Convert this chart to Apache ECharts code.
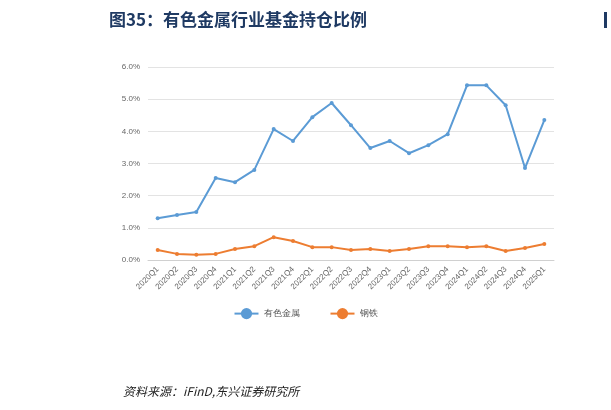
<!DOCTYPE html>
<html>
<head>
<meta charset="UTF-8">
<script src="https://cdn.jsdelivr.net/npm/echarts@6/dist/echarts.min.js"></script>
<style>
body{margin:0;background:#fff;}
#main{width:611px;height:410px;}
</style>
</head>
<body>
<div id="main"></div>
<script>
var quarters = ['2020Q1','2020Q2','2020Q3','2020Q4','2021Q1','2021Q2','2021Q3','2021Q4','2022Q1','2022Q2','2022Q3','2022Q4','2023Q1','2023Q2','2023Q3','2023Q4','2024Q1','2024Q2','2024Q3','2024Q4','2025Q1'];
var nonferrous = [1.30,1.40,1.49,2.55,2.42,2.80,4.07,3.70,4.44,4.88,4.19,3.48,3.70,3.32,3.57,3.91,5.43,5.43,4.81,2.86,4.35];
var steel = [0.31,0.19,0.16,0.19,0.34,0.43,0.71,0.59,0.40,0.40,0.31,0.34,0.28,0.34,0.43,0.43,0.40,0.43,0.28,0.37,0.50];

var chart = echarts.init(document.getElementById('main'));
chart.setOption({
    animation: false,
    title: [{
        text: '图35：有色金属行业基金持仓比例',
        left: 104, top: 6,
        textStyle: {color: '#1f3a63', fontSize: 17, fontWeight: 'bold', fontFamily: 'Noto Sans CJK SC'}
    }, {
        text: '资料来源：iFinD,东兴证券研究所',
        left: 118, top: 380,
        textStyle: {color: '#222', fontSize: 12, fontWeight: 'normal', fontStyle: 'italic', fontFamily: 'Noto Sans CJK SC'}
    }],
    graphic: [{type: 'rect', shape: {x: 604, y: 12, width: 3, height: 16}, style: {fill: '#1f3a63'}}],
    legend: {
        data: ['有色金属', '钢铁'],
        top: 303, left: 'center', itemGap: 30, itemWidth: 24,
        textStyle: {fontSize: 9, color: '#555'}
    },
    grid: {left: 148, right: 57, top: 67, bottom: 150},
    xAxis: {
        type: 'category', data: quarters, boundaryGap: true,
        axisLine: {lineStyle: {color: '#d0d0d0'}},
        axisTick: {show: false},
        axisLabel: {rotate: 45, fontSize: 8, color: '#666', interval: 0}
    },
    yAxis: {
        type: 'value', min: 0, max: 6, interval: 1,
        axisLabel: {fontSize: 8, color: '#666', formatter: function (v) { return v.toFixed(1) + '%'; }},
        splitLine: {lineStyle: {color: '#e3e3e3'}},
        axisLine: {show: false}
    },
    series: [{
        name: '有色金属', type: 'line', data: nonferrous,
        symbol: 'circle', symbolSize: 4,
        itemStyle: {color: '#5b9bd5'}, lineStyle: {width: 2}
    }, {
        name: '钢铁', type: 'line', data: steel,
        symbol: 'circle', symbolSize: 4,
        itemStyle: {color: '#ed7d31'}, lineStyle: {width: 2}
    }]
});
</script>
</body>
</html>
